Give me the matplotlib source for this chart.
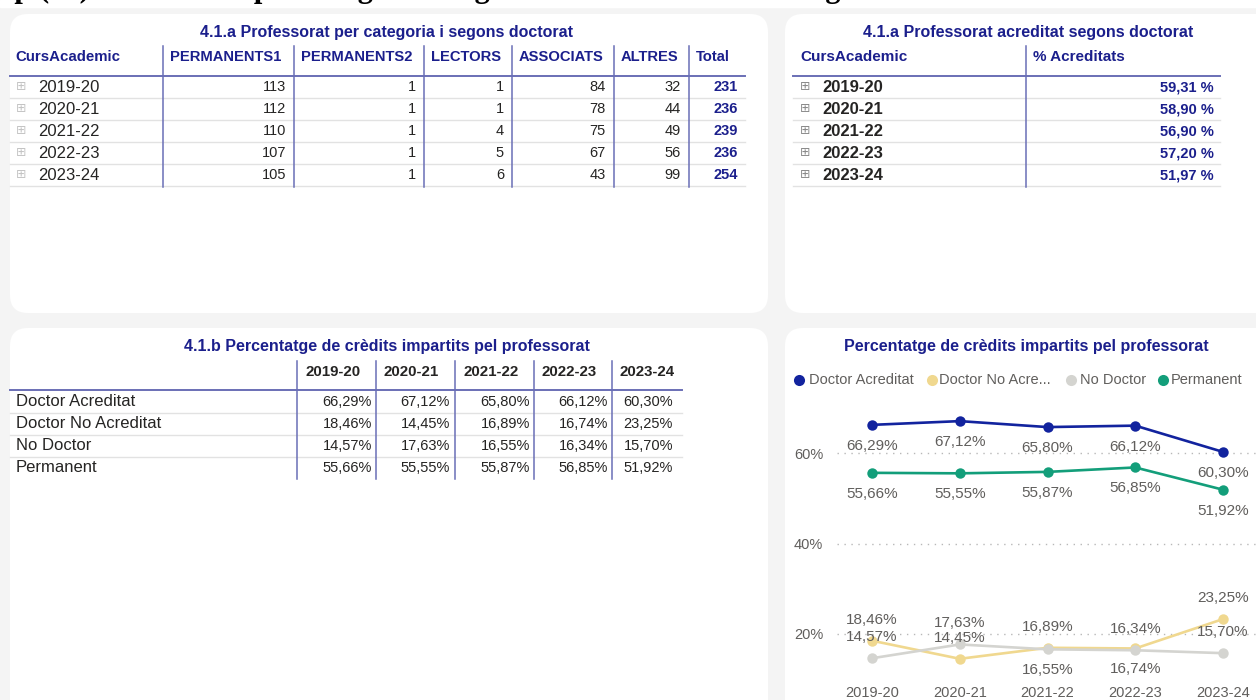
import matplotlib.pyplot as plt
from matplotlib.patches import FancyBboxPatch, Rectangle

# ---- data ----
years = ["2019-20", "2020-21", "2021-22", "2022-23", "2023-24"]

permanents1 = [113, 112, 110, 107, 105]
permanents2 = [1, 1, 1, 1, 1]
lectors = [1, 1, 4, 5, 6]
associats = [84, 78, 75, 67, 43]
altres = [32, 44, 49, 56, 99]
totals = [231, 236, 239, 236, 254]

pct_acreditats = [59.31, 58.90, 56.90, 57.20, 51.97]

categories = ["Doctor Acreditat", "Doctor No Acreditat", "No Doctor", "Permanent"]
doctor_acreditat = [66.29, 67.12, 65.80, 66.12, 60.30]
doctor_no_acreditat = [18.46, 14.45, 16.89, 16.74, 23.25]
no_doctor = [14.57, 17.63, 16.55, 16.34, 15.70]
permanent = [55.66, 55.55, 55.87, 56.85, 51.92]

# ---- style ----
NAVY = "#1b1f8c"
SEP = "#6a6fb6"
ROWLINE = "#e2e2e2"
TXT = "#252423"
GRAYTXT = "#605e5c"
BG = "#f4f4f4"
series_colors = ["#12239e", "#f0d88f", "#d4d4d0", "#139e7a"]

plt.rcParams["font.family"] = ["Liberation Sans", "DejaVu Sans"]


def pct(v, space=False):
    s = f"{v:.2f}".replace(".", ",")
    return s + (" %" if space else "%")


fig = plt.figure(figsize=(12.56, 7.0), dpi=100)
fig.patch.set_facecolor(BG)
base = fig.add_axes([0, 0, 1, 1])
base.set_xlim(0, 1256)
base.set_ylim(700, 0)
base.axis("off")

# white strip with the page title, cut off by the screenshot
base.add_patch(Rectangle((0, 0), 1256, 7, color="white", zorder=0))
base.text(-40, -2.5, "Grup (%) Professorat per categoria i segons doctorat i acreditat segons doctorat",
          family="Liberation Serif", weight="bold", fontsize=22, va="baseline", ha="left",
          color="black", zorder=0.5)


def panel(x0, y0, x1, y1):
    base.add_patch(FancyBboxPatch((x0, y0), x1 - x0, y1 - y0,
                                  boxstyle="round,pad=0,rounding_size=18",
                                  fc="white", ec="none", zorder=1))


panel(10, 14, 768, 313)
panel(785, 14, 1290, 313)
panel(10, 328, 768, 740)
panel(785, 328, 1290, 740)


def plus_icon(x, y, size=8, color="#a0a0a0"):
    base.text(x, y, "\u229e", family="DejaVu Sans", fontsize=size, color=color,
              ha="center", va="center", zorder=3)


# ---- table 4.1.a (categories) ----
base.text(386, 32, "4.1.a Professorat per categoria i segons doctorat", fontsize=11.5,
          weight="bold", color=NAVY, ha="center", va="center", zorder=3)
cols_a = ["PERMANENTS1", "PERMANENTS2", "LECTORS", "ASSOCIATS", "ALTRES", "Total"]
values_a = [permanents1, permanents2, lectors, associats, altres, totals]
sep_a = [163, 294, 424, 512, 614, 689]
right_a = [286, 416, 504, 606, 681, 738]
row_y = [87 + 22 * i for i in range(len(years))]

base.text(15, 57, "CursAcademic", fontsize=10.8, weight="bold", color=NAVY, va="center", zorder=3)
for name, sx in zip(cols_a, sep_a):
    base.text(sx + 7, 57, name, fontsize=10.6, weight="bold", color=NAVY, va="center", zorder=3)
    base.plot([sx, sx], [46, 187], color=SEP, lw=1.1, zorder=3)
base.plot([10, 745], [76, 76], color=SEP, lw=1.4, zorder=3)
for i, (yr, y) in enumerate(zip(years, row_y)):
    plus_icon(21, y - 1, size=9, color="#c4c4c4")
    base.text(38, y, yr, fontsize=12, color=TXT, va="center", zorder=3)
    for j, (vals, rx) in enumerate(zip(values_a, right_a)):
        last = j == len(values_a) - 1
        base.text(rx, y, str(vals[i]), fontsize=10.5,
                  weight="bold" if last else "normal", color=NAVY if last else TXT,
                  ha="right", va="center", zorder=3)
    base.plot([10, 745], [y + 11, y + 11], color=ROWLINE, lw=1, zorder=2)

# ---- table 4.1.a (acreditat) ----
base.text(1028, 32, "4.1.a Professorat acreditat segons doctorat", fontsize=11.5,
          weight="bold", color=NAVY, ha="center", va="center", zorder=3)
base.text(800, 57, "CursAcademic", fontsize=11, weight="bold", color=NAVY, va="center", zorder=3)
base.text(1033, 57, "% Acreditats", fontsize=11, weight="bold", color=NAVY, va="center", zorder=3)
base.plot([1026, 1026], [46, 187], color=SEP, lw=1.1, zorder=3)
base.plot([793, 1220], [76, 76], color=SEP, lw=1.4, zorder=3)
for yr, v, y in zip(years, pct_acreditats, row_y):
    plus_icon(805, y - 1, size=9, color="#8a8a8a")
    base.text(822, y, yr, fontsize=12, weight="bold", color=TXT, va="center", zorder=3)
    base.text(1214, y, pct(v, space=True), fontsize=10.5, weight="bold", color=NAVY,
              ha="right", va="center", zorder=3)
    base.plot([793, 1220], [y + 11, y + 11], color=ROWLINE, lw=1, zorder=2)

# ---- table 4.1.b ----
base.text(387, 347, "4.1.b Percentatge de crèdits impartits pel professorat", fontsize=11.5,
          weight="bold", color=NAVY, ha="center", va="center", zorder=3)
sep_c = [297, 376, 455, 534, 612]
right_c = [372, 450, 530, 608, 673]
series = [doctor_acreditat, doctor_no_acreditat, no_doctor, permanent]
for yr, sx in zip(years, sep_c):
    base.text(sx + 8, 372, yr, fontsize=10.8, weight="bold", color=TXT, va="center", zorder=3)
    base.plot([sx, sx], [361, 479], color=SEP, lw=1.1, zorder=3)
base.plot([10, 682], [389.5, 389.5], color=SEP, lw=1.4, zorder=3)
for k, (cat, vals) in enumerate(zip(categories, series)):
    y = 402 + 22 * k
    base.text(16, y, cat, fontsize=12, color=TXT, va="center", zorder=3)
    for v, rx in zip(vals, right_c):
        base.text(rx, y, pct(v), fontsize=10.5, color=TXT, ha="right", va="center", zorder=3)
    if k < len(categories) - 1:
        base.plot([10, 682], [y + 11, y + 11], color=ROWLINE, lw=1, zorder=2)

# ---- line chart ----
base.text(1026, 346, "Percentatge de crèdits impartits pel professorat", fontsize=11.5,
          weight="bold", color=NAVY, ha="center", va="center", zorder=3)
legend_pos = [(799, 809), (932, 939), (1071, 1080), (1163, 1171)]
legend_names = ["Doctor Acreditat", "Doctor No Acre...", "No Doctor", "Permanent"]
for (cx, tx), name, col in zip(legend_pos, legend_names, series_colors):
    base.plot([cx], [380], marker="o", ms=8, color=col, mec="none", zorder=3)
    base.text(tx, 380, name, fontsize=10.5, color=GRAYTXT, va="center", zorder=3)

ax = fig.add_axes([837 / 1256, 1 - 680 / 700, (1256 - 837) / 1256, (680 - 395) / 700])
ax.set_facecolor("none")
x = list(range(len(years)))
ax.set_xlim(-0.399, 4.376)
ax.set_ylim((724 - 680) / 4.5125, (724 - 395) / 4.5125)
for spine in ax.spines.values():
    spine.set_visible(False)
ax.set_yticks([20, 40, 60])
ax.set_yticklabels(["20%", "40%", "60%"])
ax.set_xticks(x)
ax.set_xticklabels(years)
ax.tick_params(axis="both", length=0, labelsize=10.5, labelcolor=GRAYTXT)
ax.tick_params(axis="y", pad=10)
ax.tick_params(axis="x", pad=4)
ax.yaxis.grid(True, linestyle=(0, (1, 4)), color="#b8b8b8", lw=1)
ax.set_axisbelow(True)

# label placement per point: -1 above, +1 below
label_side = [
    [1, 1, 1, 1, 1],
    [-1, -1, -1, 1, -1],
    [-1, -1, 1, -1, -1],
    [1, 1, 1, 1, 1],
]
for vals, col, sides in zip(series, series_colors, label_side):
    ax.plot(x, vals, color=col, lw=1.9, marker="o", ms=7.5, mec="none", zorder=3)
    for xi, v, s in zip(x, vals, sides):
        ax.annotate(pct(v), (xi, v), xytext=(0, -21 * s), textcoords="offset pixels",
                    ha="center", va="center", fontsize=11, color=GRAYTXT, zorder=4)

fig.savefig("out.png", dpi=100, facecolor=fig.get_facecolor())
